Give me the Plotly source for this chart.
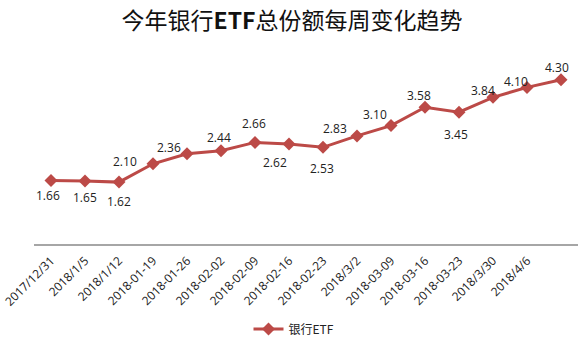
import plotly.graph_objects as go

tick_labels = ["2017/12/31", "2018/1/5", "2018/1/12", "2018-01-19", "2018-01-26",
               "2018-02-02", "2018-02-09", "2018-02-16", "2018-02-23", "2018/3/2",
               "2018-03-09", "2018-03-16", "2018-03-23", "2018/3/30", "2018/4/6"]
values = [1.66, 1.65, 1.62, 2.10, 2.36, 2.44, 2.66, 2.62, 2.53, 2.83,
          3.10, 3.58, 3.45, 3.84, 4.10, 4.30]
series_name = "银行ETF"
title_text = "今年银行<b>ETF</b>总份额每周变化趋势"

# label offsets in px (dx right, dy down) — layout only
label_dx = [-3, 0, 0, -28, -18, -2, -1, -14, -1, -22, -16, -6, -3, -10, -11, -4]
label_dy = [15, 17, 19, -2, -6, -13, -19, 19, 21, -7, -11, -12, 22, -7, -6, -12]

x_idx = list(range(len(values)))
color = "#BC4A47"

fig = go.Figure()
fig.add_trace(go.Scatter(
    x=x_idx, y=values, mode="lines+markers", name=series_name,
    line=dict(color=color, width=3),
    marker=dict(symbol="diamond", size=10, color=color),
))

for xi, v, dx, dy in zip(x_idx, values, label_dx, label_dy):
    fig.add_annotation(x=xi, y=v, text=f"{v:.2f}", showarrow=False,
                       xshift=dx, yshift=-dy,
                       font=dict(size=12, color="#222", family="Open Sans"))

fig.update_layout(
    width=585, height=355,
    margin=dict(l=34, r=7, t=53, b=111, autoexpand=False),
    paper_bgcolor="white", plot_bgcolor="white",
    title=dict(text=title_text, x=292/585, xref="container", xanchor="center",
               y=1-21/355, yref="container", yanchor="middle",
               font=dict(size=23, color="#111", family="Noto Sans CJK SC", weight="normal")),
    showlegend=True,
    legend=dict(orientation="h", x=294/585, xref="container", xanchor="center",
                y=1-329/355, yref="container", yanchor="middle",
                font=dict(size=12, color="#222", family="Noto Sans CJK SC")),
    xaxis=dict(tickmode="array", tickvals=list(range(len(tick_labels))), ticktext=tick_labels,
               tickangle=-45, showgrid=False, showline=True, linecolor="#A6A6A6",
               linewidth=2, ticks="", range=[-0.5, len(values)-0.5], zeroline=False,
               ticklabelstandoff=3, automargin=False, ticklabeloverflow="allow",
               tickfont=dict(size=12, color="#1a1a1a", family="Open Sans")),
    yaxis=dict(range=[0, 5], visible=False, showgrid=False, zeroline=False, automargin=False),
)

fig.write_html("out.html")
